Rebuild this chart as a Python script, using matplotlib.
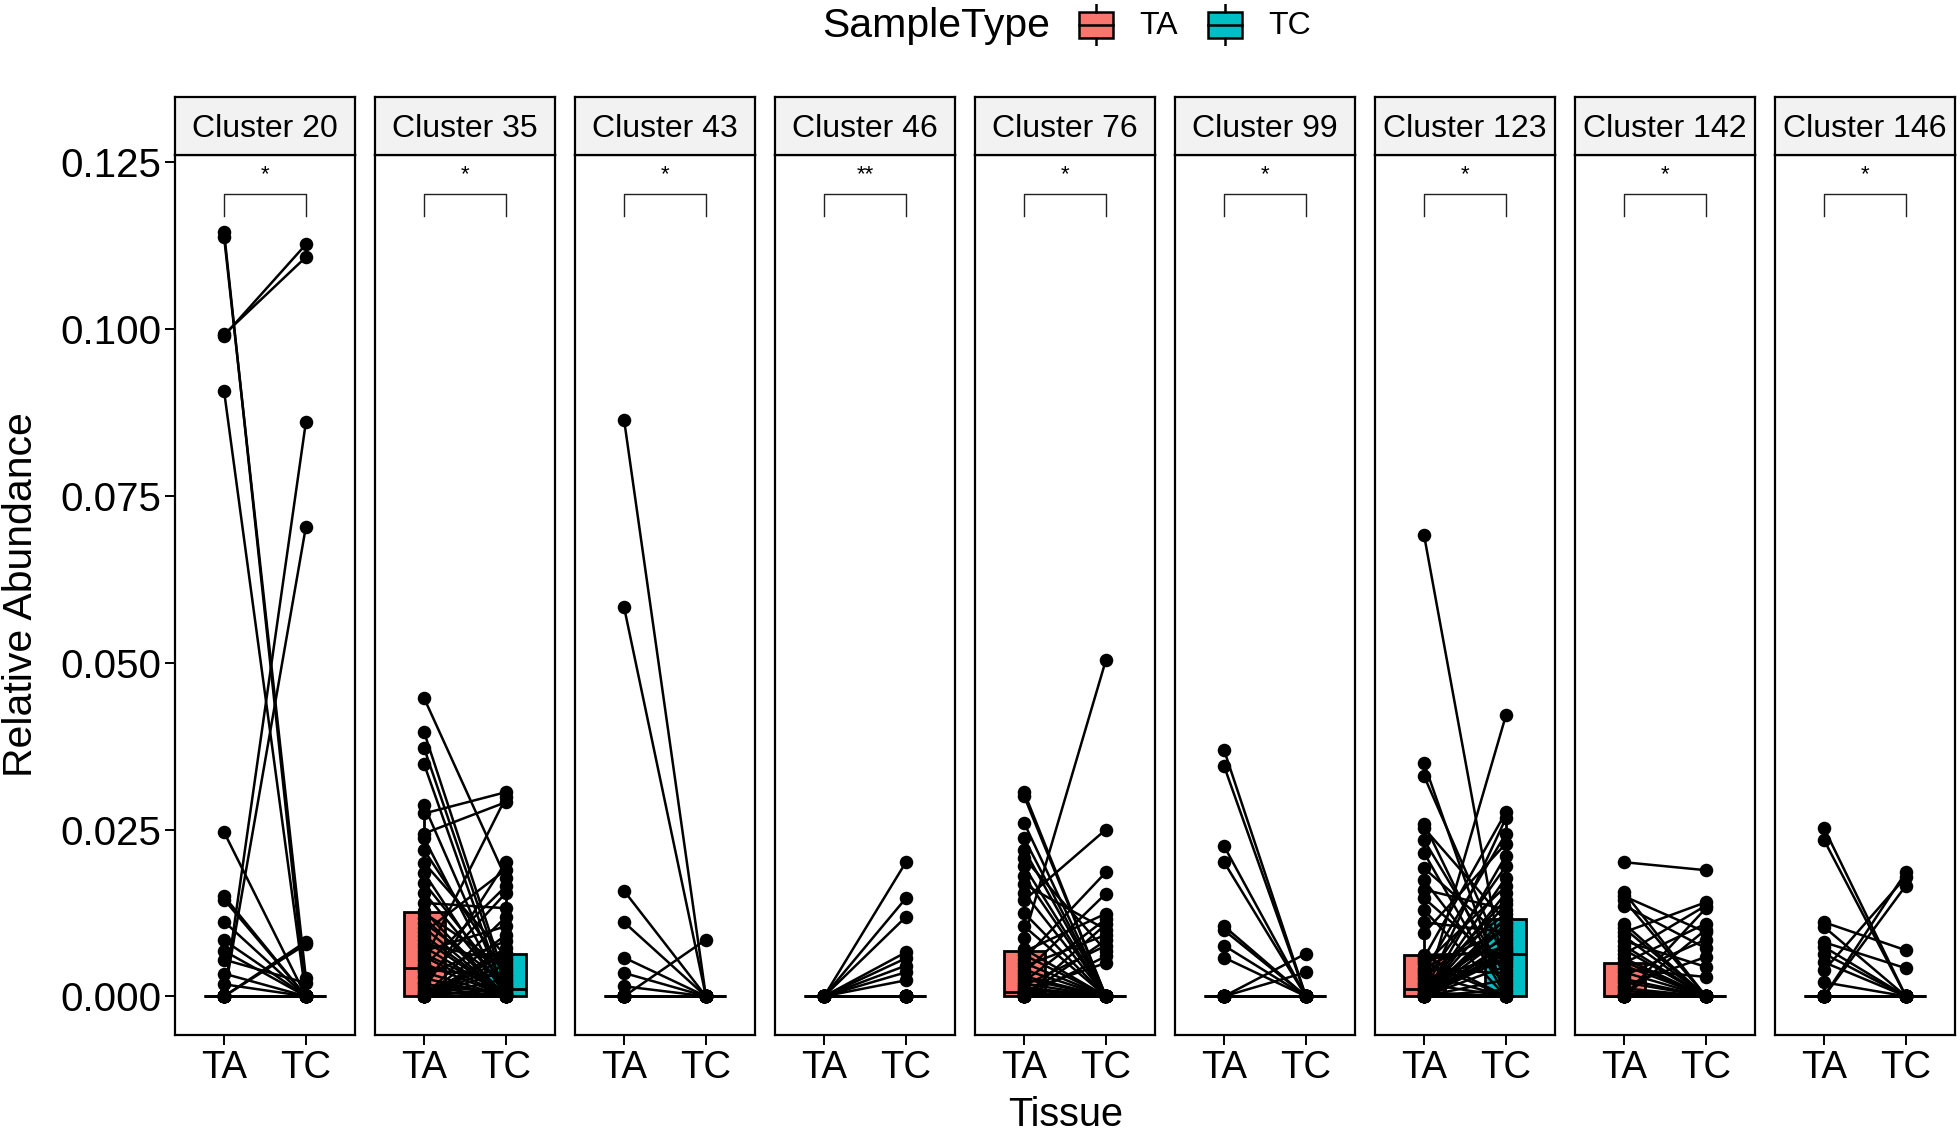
import matplotlib
matplotlib.use("Agg")
import matplotlib.pyplot as plt
from matplotlib.patches import Rectangle
import numpy as np

plt.rcParams['font.family'] = ['Liberation Sans', 'DejaVu Sans']

clusters = ["Cluster 20", "Cluster 35", "Cluster 43", "Cluster 46", "Cluster 76",
            "Cluster 99", "Cluster 123", "Cluster 142", "Cluster 146"]
signif = ["*", "*", "*", "**", "*", "*", "*", "*", "*"]
groups = ["TA", "TC"]
group_colors = ["#F8766D", "#00BFC4"]
yticks = [0.0, 0.025, 0.05, 0.075, 0.1, 0.125]
ytick_labels = ["0.000", "0.025", "0.050", "0.075", "0.100", "0.125"]

# Paired relative abundances (in units of 1e-3), same sample order in TA and TC
ta_c20 = [114.5, 113.8, 99.2, 99.0, 90.7, 0, 0, 24.6, 0, 0,
          15.0, 14.5, 11.2, 8.4, 6.8, 5.5, 3.4, 1.8, 0, 0,
          0, 0, 0, 0, 0, 0, 0, 0, 0, 0,
          0, 0, 0, 0, 0, 0, 0, 0, 0, 0,
          0, 0, 0, 0, 0, 0, 0, 0, 0, 0,
          0, 0, 0, 0, 0, 0, 0, 0, 0, 0]
tc_c20 = [0, 2.7, 110.8, 112.7, 0, 86.1, 70.4, 0, 8.2, 7.8,
          0, 0, 0, 0, 0, 2.0, 0, 0, 0, 0,
          0, 0, 0, 0, 0, 0, 0, 0, 0, 0,
          0, 0, 0, 0, 0, 0, 0, 0, 0, 0,
          0, 0, 0, 0, 0, 0, 0, 0, 0, 0,
          0, 0, 0, 0, 0, 0, 0, 0, 0, 0]

ta_c35 = [44.7, 39.6, 37.2, 34.8, 28.6, 27.4, 24.4, 23.7, 21.9, 20.0,
          18.5, 17.0, 15.5, 14.0, 12.8, 12.5, 11.8, 11.0, 10.3, 9.6,
          9.1, 8.5, 7.9, 7.4, 6.8, 6.3, 5.9, 5.4, 4.9, 4.5,
          4.0, 3.6, 3.1, 2.7, 2.2, 1.8, 1.4, 1.0, 0.7, 0.3,
          0, 0, 0, 0, 0, 0, 0, 0, 0, 0,
          0, 0, 0, 0, 0, 0, 0, 0, 0, 0]
tc_c35 = [17.7, 2.3, 1.4, 0, 0.5, 30.6, 29.1, 0, 3.4, 6.0,
          0, 1.7, 0.9, 13.2, 0, 4.2, 0, 2.0, 0, 19.0,
          0.2, 0, 5.1, 0, 10.5, 0.7, 0, 29.8, 0, 16.5,
          3.0, 0, 8.3, 0, 15.5, 0.4, 0, 20.1, 0, 6.5,
          11.9, 9.2, 7.2, 6.3, 5.6, 4.7, 3.8, 2.6, 1.2, 0.1,
          0, 0, 0, 0, 0, 0, 0, 0, 0, 0]

ta_c43 = [86.4, 58.3, 15.8, 11.1, 5.8, 3.5, 1.5, 0, 0, 0,
          0, 0, 0, 0, 0, 0, 0, 0, 0, 0,
          0, 0, 0, 0, 0, 0, 0, 0, 0, 0,
          0, 0, 0, 0, 0, 0, 0, 0, 0, 0,
          0, 0, 0, 0, 0, 0, 0, 0, 0, 0,
          0, 0, 0, 0, 0, 0, 0, 0, 0, 0]
tc_c43 = [0, 0, 0, 0, 0, 0, 0, 8.5, 0, 0,
          0, 0, 0, 0, 0, 0, 0, 0, 0, 0,
          0, 0, 0, 0, 0, 0, 0, 0, 0, 0,
          0, 0, 0, 0, 0, 0, 0, 0, 0, 0,
          0, 0, 0, 0, 0, 0, 0, 0, 0, 0,
          0, 0, 0, 0, 0, 0, 0, 0, 0, 0]

ta_c46 = [0, 0, 0, 0, 0, 0, 0, 0, 0, 0,
          0, 0, 0, 0, 0, 0, 0, 0, 0, 0,
          0, 0, 0, 0, 0, 0, 0, 0, 0, 0,
          0, 0, 0, 0, 0, 0, 0, 0, 0, 0,
          0, 0, 0, 0, 0, 0, 0, 0, 0, 0,
          0, 0, 0, 0, 0, 0, 0, 0, 0, 0]
tc_c46 = [20.1, 14.7, 11.9, 6.6, 5.7, 4.6, 3.6, 2.4, 0, 0,
          0, 0, 0, 0, 0, 0, 0, 0, 0, 0,
          0, 0, 0, 0, 0, 0, 0, 0, 0, 0,
          0, 0, 0, 0, 0, 0, 0, 0, 0, 0,
          0, 0, 0, 0, 0, 0, 0, 0, 0, 0,
          0, 0, 0, 0, 0, 0, 0, 0, 0, 0]

ta_c76 = [30.6, 30.0, 26.0, 23.7, 22.0, 20.7, 19.5, 18.0, 16.8, 15.5,
          14.4, 12.5, 10.5, 8.8, 7.1, 6.7, 6.2, 5.6, 5.0, 4.5,
          4.0, 3.5, 3.0, 2.6, 2.2, 1.9, 1.6, 1.3, 1.0, 0.8,
          0.5, 0.3, 0, 0, 0, 0, 0, 0, 0, 0,
          0, 0, 0, 0, 0, 0, 0, 0, 0, 0,
          0, 0, 0, 0, 0, 0, 0, 0, 0, 0]
tc_c76 = [0, 0, 0, 0, 0, 6.8, 0, 0, 10.0, 0,
          25.0, 0, 0, 50.4, 0, 12.4, 0, 18.6, 0, 9.2,
          0, 15.4, 0, 0, 11.6, 0, 7.6, 0, 0, 5.0,
          0, 0, 10.8, 8.4, 6.0, 0, 0, 0, 0, 0,
          0, 0, 0, 0, 0, 0, 0, 0, 0, 0,
          0, 0, 0, 0, 0, 0, 0, 0, 0, 0]

ta_c99 = [36.9, 34.5, 22.5, 20.1, 10.5, 9.9, 7.6, 5.8, 0, 0,
          0, 0, 0, 0, 0, 0, 0, 0, 0, 0,
          0, 0, 0, 0, 0, 0, 0, 0, 0, 0,
          0, 0, 0, 0, 0, 0, 0, 0, 0, 0,
          0, 0, 0, 0, 0, 0, 0, 0, 0, 0,
          0, 0, 0, 0, 0, 0, 0, 0, 0, 0]
tc_c99 = [0, 0, 0, 0, 0, 0, 0, 0, 6.4, 3.6,
          0, 0, 0, 0, 0, 0, 0, 0, 0, 0,
          0, 0, 0, 0, 0, 0, 0, 0, 0, 0,
          0, 0, 0, 0, 0, 0, 0, 0, 0, 0,
          0, 0, 0, 0, 0, 0, 0, 0, 0, 0,
          0, 0, 0, 0, 0, 0, 0, 0, 0, 0]

ta_c123 = [69.1, 34.9, 33.0, 25.9, 25.2, 23.4, 21.5, 19.2, 17.4, 16.0,
           14.7, 12.9, 11.1, 9.5, 6.2, 6.1, 5.8, 5.5, 5.1, 4.8,
           4.3, 4.0, 3.6, 3.3, 2.9, 2.6, 2.2, 1.9, 1.6, 1.2,
           0.9, 0.6, 0.4, 0.2, 0, 0, 0, 0, 0, 0,
           0, 0, 0, 0, 0, 0, 0, 0, 0, 0,
           0, 0, 0, 0, 0, 0, 0, 0, 0, 0]
tc_c123 = [2.0, 0, 5.0, 0.6, 11.2, 3.0, 0, 8.4, 1.5, 13.0,
           4.0, 0, 9.6, 22.9, 6.5, 0, 27.6, 7.2, 0, 16.5,
           10.0, 3.5, 24.4, 0, 12.4, 6.1, 19.5, 0, 8.8, 14.5,
           5.4, 0, 26.7, 10.8, 42.1, 21.1, 17.8, 15.5, 13.8, 11.8,
           11.6, 10.4, 9.2, 8.0, 7.6, 6.9, 6.6, 6.3, 5.8, 4.5,
           2.5, 1.0, 0, 0, 0, 0, 0, 0, 0, 0]

ta_c142 = [20.1, 15.6, 15.0, 14.4, 13.6, 10.9, 10.2, 9.6, 9.0, 8.3,
           7.6, 7.0, 6.3, 5.7, 5.2, 5.0, 4.6, 4.1, 3.6, 3.1,
           2.6, 2.1, 1.6, 1.2, 0.8, 0.4, 0, 0, 0, 0,
           0, 0, 0, 0, 0, 0, 0, 0, 0, 0,
           0, 0, 0, 0, 0, 0, 0, 0, 0, 0,
           0, 0, 0, 0, 0, 0, 0, 0, 0, 0]
tc_c142 = [18.9, 0, 9.6, 0, 7.2, 0, 0, 14.1, 0, 4.4,
           0, 0, 13.6, 0, 0, 10.9, 0, 2.9, 0, 8.5,
           0, 0, 5.9, 0, 0, 0, 13.2, 10.0, 0, 0,
           0, 0, 0, 0, 0, 0, 0, 0, 0, 0,
           0, 0, 0, 0, 0, 0, 0, 0, 0, 0,
           0, 0, 0, 0, 0, 0, 0, 0, 0, 0]

ta_c146 = [25.2, 23.4, 11.1, 10.4, 8.1, 7.4, 6.4, 5.1, 3.9, 2.1,
           0, 0, 0, 0, 0, 0, 0, 0, 0, 0,
           0, 0, 0, 0, 0, 0, 0, 0, 0, 0,
           0, 0, 0, 0, 0, 0, 0, 0, 0, 0,
           0, 0, 0, 0, 0, 0, 0, 0, 0, 0,
           0, 0, 0, 0, 0, 0, 0, 0, 0, 0]
tc_c146 = [0, 0, 6.9, 0, 4.2, 0, 0, 0, 17.9, 0,
           18.6, 16.6, 0, 0, 0, 0, 0, 0, 0, 0,
           0, 0, 0, 0, 0, 0, 0, 0, 0, 0,
           0, 0, 0, 0, 0, 0, 0, 0, 0, 0,
           0, 0, 0, 0, 0, 0, 0, 0, 0, 0,
           0, 0, 0, 0, 0, 0, 0, 0, 0, 0]

ta_all = [ta_c20, ta_c35, ta_c43, ta_c46, ta_c76, ta_c99, ta_c123, ta_c142, ta_c146]
tc_all = [tc_c20, tc_c35, tc_c43, tc_c46, tc_c76, tc_c99, tc_c123, tc_c142, tc_c146]

W, H = 1960, 1133
fig = plt.figure(figsize=(W / 100, H / 100), dpi=100)
fig.patch.set_facecolor("white")

panel_top, panel_bot = 155, 1035
strip_top = 97
ylim = (-0.0058, 0.1261)
LW = 1.6

for i, name in enumerate(clusters):
    left = 175 + 200 * i
    ax = fig.add_axes([left / W, 1 - panel_bot / H, 180 / W, (panel_bot - panel_top) / H])
    ta = np.array(ta_all[i]) * 1e-3
    tc = np.array(tc_all[i]) * 1e-3
    bp = ax.boxplot([ta, tc], positions=[1, 2], widths=0.5, patch_artist=True,
                    showfliers=False, showcaps=False, zorder=1,
                    medianprops=dict(color="black", lw=2.0),
                    boxprops=dict(edgecolor="black", lw=2.0),
                    whiskerprops=dict(color="black", lw=2.0))
    for patch, col in zip(bp["boxes"], group_colors):
        patch.set_facecolor(col)
    for a, b in zip(ta, tc):
        ax.plot([1, 2], [a, b], color="black", lw=1.8, zorder=2, solid_capstyle="round")
    ax.scatter(np.ones(len(ta)), ta, s=95, color="black", zorder=3, linewidths=0)
    ax.scatter(np.full(len(tc), 2.0), tc, s=95, color="black", zorder=3, linewidths=0)

    # significance bracket
    ax.plot([1, 1, 2, 2], [0.1169, 0.1203, 0.1203, 0.1169], color="#222222", lw=1.0, zorder=4)
    ax.text(1.5, 0.1223, signif[i], ha="center", va="baseline", fontsize=16)

    ax.set_xlim(0.4, 2.6)
    ax.set_ylim(*ylim)
    ax.set_xticks([1, 2])
    ax.set_xticklabels(groups, fontsize=27.5)
    ax.set_yticks(yticks)
    if i == 0:
        ax.set_yticklabels(ytick_labels, fontsize=29)
        ax.tick_params(axis="y", length=7, width=1.4, pad=3)
    else:
        ax.tick_params(axis="y", left=False, labelleft=False)
    ax.tick_params(axis="x", length=7, width=1.4, pad=4)
    for sp in ax.spines.values():
        sp.set_linewidth(LW)
        sp.set_color("black")

    sax = fig.add_axes([left / W, 1 - panel_top / H, 180 / W, (panel_top - strip_top) / H])
    sax.set_facecolor("#F2F2F2")
    sax.set_xticks([])
    sax.set_yticks([])
    for sp in sax.spines.values():
        sp.set_linewidth(LW)
        sp.set_color("black")
    sax.text(0.5, 0.45, name, ha="center", va="center", fontsize=23, transform=sax.transAxes)

fig.text(21 / W, 1 - 595 / H, "Relative Abundance", rotation=90, ha="center", va="center", fontsize=29.5)
fig.text(1066 / W, 1 - 1115 / H, "Tissue", ha="center", va="center", fontsize=28.5)

# legend
fig.text(822 / W, 1 - 26 / H, "SampleType", ha="left", va="center", fontsize=29.5)
for lab, col, kx, tx in zip(groups, group_colors, [1077, 1206], [1139, 1268]):
    kax = fig.add_axes([kx / W, 1 - 46 / H, 38 / W, 42 / H])
    kax.set_xlim(0, 1)
    kax.set_ylim(0, 1)
    kax.axis("off")
    kax.add_patch(Rectangle((0.04, 0.2), 0.92, 0.62, facecolor=col, edgecolor="black", lw=1.8))
    kax.plot([0.04, 0.96], [0.51, 0.51], color="black", lw=1.8)
    kax.plot([0.5, 0.5], [0.0, 0.2], color="black", lw=1.8)
    kax.plot([0.5, 0.5], [0.82, 1.0], color="black", lw=1.8)
    fig.text(tx / W, 1 - 26 / H, lab, ha="left", va="center", fontsize=23)

fig.savefig("out.png", dpi=100, facecolor="white")
